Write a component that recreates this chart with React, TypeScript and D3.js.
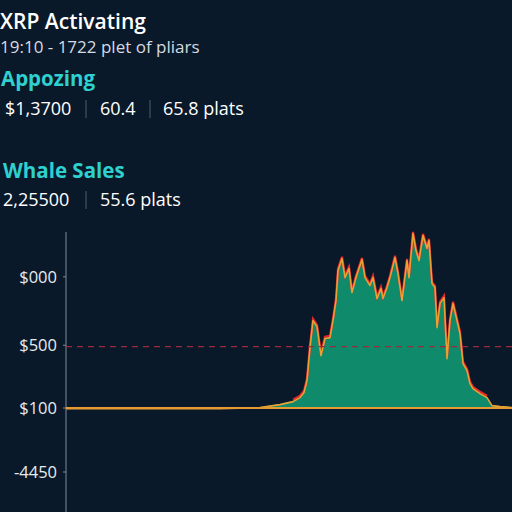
import React from "react";
import * as d3 from "d3";

// time index (arbitrary units) and price-ish value
const TIMES = [
  0, 42, 77, 97, 107, 113.5, 117, 119, 120.5, 122, 123.5, 125.5, 127.5, 129.5, 132,
  133.5, 135, 136, 138, 139.5, 141.5, 143, 145, 148, 149.5, 152, 153.5, 155.5, 157.5,
  158.5, 160.5, 162, 164.5, 166, 168, 170.5, 171.5, 173.5, 175, 176.5, 178.5, 180.5,
  181.5, 183, 184.5, 185.5, 187, 189, 190.5, 192, 193.5, 195.5, 197, 198.5, 200.5,
  202, 203.5, 207, 210.5, 213, 217, 223,
];
const VALUES = [
  0, 0, 0, 16, 62, 109, 172, 250, 438, 953, 1375, 1281, 828, 1094, 1109,
  1375, 1688, 2156, 2344, 2047, 2188, 1813, 2047, 2328, 2047, 1922, 2047, 1719, 1875,
  1719, 1891, 2047, 2359, 2109, 1688, 2313, 2047, 2734, 2469, 2313, 2703, 2500,
  2625, 1953, 1891, 1266, 1641, 1734, 781, 1375, 1641, 1375, 1172, 703, 594,
  391, 313, 234, 172, 47, 31, 16,
];

const TICK_VALUES = [2050, 980, 0, -1000];
const TICK_LABELS = ["$000", "$500", "$100", "-4450"];
const THRESHOLD = 960;

const STATS_1 = ["$1,3700", "60.4", "65.8 plats"];
const STATS_2 = ["2,25500", "55.6 plats"];

const W = 512;
const H = 512;
const FONT = "'Open Sans', 'Noto Sans', sans-serif";

export default function App() {
  const left = 66;
  const x = d3.scaleLinear().domain([0, 223]).range([left, W]);
  const y = d3.scaleLinear().domain([-1000, 2000]).range([472, 280]);

  const data = TIMES.map((t, i) => ({ t, v: VALUES[i] }));
  const area = d3.area<{ t: number; v: number }>()
    .x(d => x(d.t)).y0(y(0)).y1(d => y(d.v));
  const line = d3.line<{ t: number; v: number }>()
    .x(d => x(d.t)).y(d => y(d.v));
  // red glow only on the raised part, flat tails stay orange
  const redLine = d3.line<{ t: number; v: number }>()
    .defined(d => d.v > 100)
    .x(d => x(d.t)).y(d => y(d.v));

  const sep = (sx: number, sy: number) => (
    <line x1={sx} x2={sx} y1={sy - 15} y2={sy + 3} stroke="#4e5c6c" strokeWidth={1} />
  );

  return (
    <div style={{ position: "absolute", left: 0, top: 0 }}>
      <svg width={W} height={H} style={{ display: "block", background: "#0a1929" }} fontFamily={FONT}>
        <rect width={W} height={H} fill="#0a1929" />

        {/* header */}
        <text x={0} y={29} fill="#ffffff" fontSize={21} fontWeight={600}>XRP Activating</text>
        <text x={0} y={53} fill="#d4dbe2" fontSize={17}>19:10 - 1722 plet of pliars</text>
        <text x={1} y={86} fill="#2fd0d0" fontSize={20.5} fontWeight={700}>Appozing</text>
        <text x={5} y={115} fill="#ffffff" fontSize={18}>{STATS_1[0]}</text>
        {sep(86, 115)}
        <text x={100} y={115} fill="#ffffff" fontSize={18}>{STATS_1[1]}</text>
        {sep(150, 115)}
        <text x={163} y={115} fill="#ffffff" fontSize={18}>{STATS_1[2]}</text>

        <text x={3} y={178} fill="#2fd0d0" fontSize={20.5} fontWeight={700}>Whale Sales</text>
        <text x={3} y={206} fill="#ffffff" fontSize={18}>{STATS_2[0]}</text>
        {sep(86, 206)}
        <text x={100} y={206} fill="#ffffff" fontSize={18}>{STATS_2[1]}</text>

        {/* axis */}
        <line x1={left} x2={left} y1={232} y2={H} stroke="#7c8a98" strokeWidth={1} />
        {TICK_VALUES.map((v, i) => (
          <g key={v} transform={`translate(0,${y(v)})`}>
            <line x1={left - 3} x2={left} stroke="#7c8a98" />
            <text x={57} dy="0.35em" textAnchor="end" fill="#e6ebf0" fontSize={16.5}>{TICK_LABELS[i]}</text>
          </g>
        ))}

        {/* area */}
        <path d={area(data) ?? ""} fill="#0f8a6b" />
        <path d={redLine(data) ?? ""} fill="none" stroke="#e3262b" strokeWidth={2.2} strokeLinejoin="miter" transform="translate(0,-1.2)" />
        <path d={line(data) ?? ""} fill="none" stroke="#e9a035" strokeWidth={1.6} strokeLinejoin="round" transform="translate(0,0.6)" />

        {/* baseline and threshold */}
        <line x1={left} x2={W} y1={y(0)} y2={y(0)} stroke="#e59a32" strokeWidth={2} />
        <line x1={left} x2={W} y1={y(THRESHOLD)} y2={y(THRESHOLD)} stroke="#9a2b3c" strokeWidth={1.2} strokeDasharray="6 5" />
      </svg>
    </div>
  );
}
